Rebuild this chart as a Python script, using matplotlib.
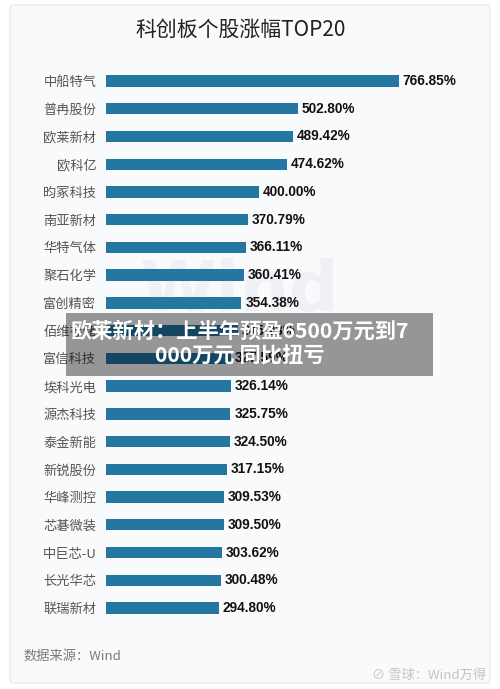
import matplotlib
matplotlib.use("Agg")
import matplotlib.pyplot as plt
from matplotlib.patches import Rectangle, FancyBboxPatch

categories = ["中船特气", "普冉股份", "欧莱新材", "欧科亿", "昀冢科技", "南亚新材", "华特气体",
              "聚石化学", "富创精密", "佰维存储", "富信科技", "埃科光电", "源杰科技", "泰金新能",
              "新锐股份", "华峰测控", "芯碁微装", "中巨芯-U", "长光华芯", "联瑞新材"]
values = [766.85, 502.80, 489.42, 474.62, 400.00, 370.79, 366.11, 360.41, 354.38, 345.23,
          327.59, 326.14, 325.75, 324.50, 317.15, 309.53, 309.50, 303.62, 300.48, 294.80]
value_labels = [f"{v:.2f}%" for v in values]
title = "科创板个股涨幅TOP20"
source = "数据来源：Wind"
overlay_lines = ["欧莱新材：上半年预盈6500万元到7", "000万元 同比扭亏"]
watermark = "雪球：Wind万得"

W, H = 500, 689
fig = plt.figure(figsize=(5, 6.89), dpi=100, facecolor="white")

# card background
card = FancyBboxPatch((10 / W, 6 / H), 480 / W, 678 / H, boxstyle="round,pad=0,rounding_size=0.004",
                      transform=fig.transFigure, facecolor="#f9fafc", edgecolor="#e4e6ea", lw=0.8, zorder=-5)
fig.patches.append(card)

# faint big watermark
fig.text(240 / W, 1 - 292 / H, "Wind", ha="center", va="center", fontsize=50, color="#eff1f4",
         family="DejaVu Sans", fontweight="bold", zorder=-4)

y0, y1 = 81, 608
n = len(categories)
step = (y1 - y0) / (n - 1)
top_px = y0 - step / 2
bot_px = y1 + step / 2
ax_left, ax_right = 106, 480
xmax = 766.85 * (ax_right - ax_left) / (399 - ax_left)
ax = fig.add_axes([ax_left / W, 1 - bot_px / H, (ax_right - ax_left) / W, (bot_px - top_px) / H])
ax.set_zorder(1)
ax.patch.set_alpha(0)
ypos = list(range(n))
ax.barh(ypos, values, height=0.41, color="#2476a3", zorder=2)
ax.set_ylim(n - 0.5, -0.5)
ax.set_xlim(0, xmax)
ax.set_yticks(ypos)
ax.set_yticklabels(categories, family=["Noto Sans CJK SC", "DejaVu Sans"], fontsize=9.5, color="#555555")
ax.tick_params(axis="y", length=0, pad=7)
ax.set_xticks([])
for s in ax.spines.values():
    s.set_visible(False)
for i, (v, lab) in enumerate(zip(values, value_labels)):
    ax.text(v + 10, i, lab, va="center", ha="left", fontsize=9.8, fontweight="bold",
            family="Liberation Sans", color="#111111", zorder=3)

fig.text(241 / W, 1 - 30 / H, title, ha="center", va="center", fontsize=15,
         family=["Noto Sans CJK SC", "DejaVu Sans"], color="#222222")

fig.text(23 / W, 1 - 656 / H, source, ha="left", va="center", fontsize=9.5,
         family=["Noto Sans CJK SC", "DejaVu Sans"], color="#7a7a7a")
fig.text(486 / W, 1 - 675 / H, "⊘ " + watermark, ha="right", va="center", fontsize=9.5,
         family=["Noto Sans CJK SC", "DejaVu Sans"], color="#c4c4c4")

# overlay band
band = Rectangle((66 / W, 1 - 376 / H), (433 - 66) / W, (376 - 313) / H, transform=fig.transFigure,
                 facecolor="#000000", alpha=0.4, edgecolor="none", zorder=10)
fig.patches.append(band)
fig.text(240 / W, 1 - 331 / H, overlay_lines[0], ha="center", va="center", fontsize=15.3,
         fontweight="bold", family=["Noto Sans CJK SC", "DejaVu Sans"], color="white", zorder=11)
fig.text(240 / W, 1 - 356 / H, overlay_lines[1], ha="center", va="center", fontsize=15.3,
         fontweight="bold", family=["Noto Sans CJK SC", "DejaVu Sans"], color="white", zorder=11)

fig.savefig("out.png", dpi=100, facecolor="white")
